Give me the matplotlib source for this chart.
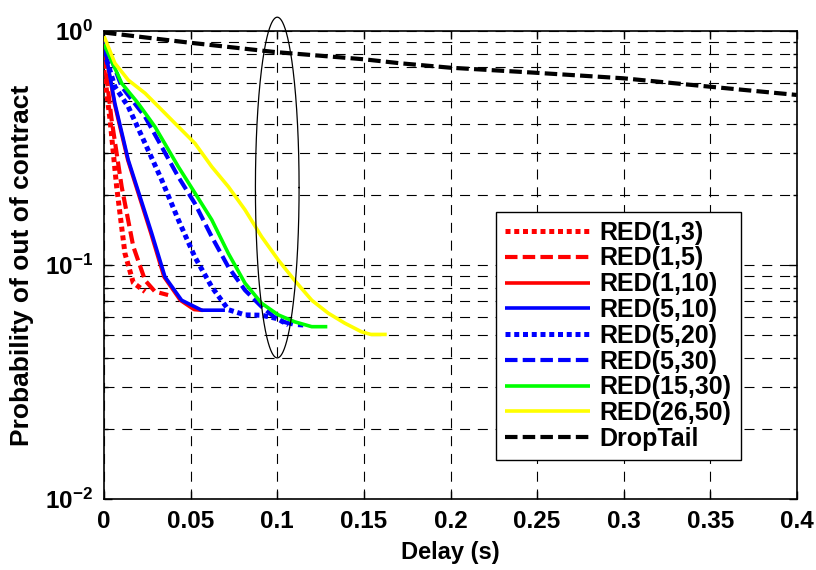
import numpy as np
import matplotlib
matplotlib.use("Agg")
import matplotlib.pyplot as plt

# ---- data: delay (s) vs probability of being out of contract ----
red_1_3_x = [0.0, 0.0035, 0.0073, 0.0121, 0.0169, 0.0237]
red_1_3_y = [0.68, 0.417, 0.216, 0.112, 0.084, 0.077]

red_1_5_x = [0.0, 0.0044, 0.0102, 0.0169, 0.0237, 0.0294, 0.037]
red_1_5_y = [0.78, 0.417, 0.216, 0.12, 0.086, 0.077, 0.0744]

red_1_10_x = [0.0, 0.0060, 0.0137, 0.0270, 0.0346, 0.0440, 0.0520, 0.0570]
red_1_10_y = [0.88, 0.49, 0.281, 0.137, 0.089, 0.0707, 0.0645, 0.0640]

red_5_10_x = [0.0, 0.0063, 0.0140, 0.0275, 0.0352, 0.0448, 0.0564, 0.0698]
red_5_10_y = [0.88, 0.49, 0.281, 0.137, 0.089, 0.0707, 0.0641, 0.0641]

red_5_20_x = [0.0, 0.0063, 0.0140, 0.0237, 0.0333, 0.0429, 0.0525, 0.0622,
              0.0718, 0.0814, 0.0910, 0.1000, 0.1064]
red_5_20_y = [0.82, 0.578, 0.475, 0.331, 0.231, 0.156, 0.108, 0.0806,
              0.0644, 0.0612, 0.0610, 0.0590, 0.0555]

red_5_30_x = [0.0, 0.0102, 0.0237, 0.0333, 0.0429, 0.0525, 0.0622, 0.0718,
              0.0814, 0.0910, 0.1006, 0.1100, 0.1150]
red_5_30_y = [0.92, 0.578, 0.43, 0.32, 0.238, 0.183, 0.132, 0.098,
              0.078, 0.0663, 0.058, 0.0555, 0.0552]

red_15_30_x = [0.0, 0.0102, 0.0198, 0.0294, 0.0429, 0.0525, 0.0622, 0.0718,
               0.0814, 0.0910, 0.1006, 0.1100, 0.1199, 0.1289]
red_15_30_y = [0.88, 0.598, 0.49, 0.39, 0.263, 0.203, 0.156, 0.112,
               0.0836, 0.0686, 0.0612, 0.0572, 0.0545, 0.0545]

red_26_50_x = [0.0, 0.0063, 0.0140, 0.0237, 0.0333, 0.0429, 0.0525, 0.0622,
               0.0718, 0.0814, 0.0910, 0.1006, 0.1100, 0.1199, 0.1295, 0.1390,
               0.1487, 0.1540, 0.1632]
red_26_50_y = [0.95, 0.728, 0.617, 0.542, 0.46, 0.39, 0.331, 0.263,
               0.216, 0.172, 0.132, 0.105, 0.086, 0.0707, 0.0622, 0.0564,
               0.0518, 0.0505, 0.0505]

droptail_x = [0.0, 0.0496, 0.0987, 0.1500, 0.1709, 0.1997, 0.2478, 0.2997,
              0.3498, 0.3998]
droptail_y = [0.985, 0.891, 0.813, 0.757, 0.728, 0.697, 0.664, 0.628,
              0.578, 0.533]

x_ticks = [0, 0.05, 0.1, 0.15, 0.2, 0.25, 0.3, 0.35, 0.4]
x_tick_labels = ["0", "0.05", "0.1", "0.15", "0.2", "0.25", "0.3", "0.35", "0.4"]
y_ticks = [1e-2, 1e-1, 1e0]
y_tick_labels = [r"$\mathbf{10^{-2}}$", r"$\mathbf{10^{-1}}$", r"$\mathbf{10^{0}}$"]

# ---- fonts ----
family = "Liberation Sans"
plt.rcParams["font.family"] = [family, "DejaVu Sans"]
plt.rcParams["font.weight"] = "bold"
plt.rcParams["mathtext.fontset"] = "custom"
plt.rcParams["mathtext.bf"] = f"{family}:bold"
plt.rcParams["mathtext.rm"] = f"{family}:bold"

fig = plt.figure(figsize=(8.16, 5.70), dpi=100)
ax = fig.add_axes([104 / 816, 71 / 570, 693 / 816, 468 / 570])
ax.set_yscale("log")

lw = 2.6
dot = (0, (1, 0.75))
dash = (0, (3, 1.25))
series = [
    (red_1_3_x, red_1_3_y, "RED(1,3)", "#ff0000", dot, 3.6),
    (red_1_5_x, red_1_5_y, "RED(1,5)", "#ff0000", dash, lw + 0.4),
    (red_1_10_x, red_1_10_y, "RED(1,10)", "#ff0000", "-", lw),
    (red_5_10_x, red_5_10_y, "RED(5,10)", "#0000ff", "-", lw),
    (red_5_20_x, red_5_20_y, "RED(5,20)", "#0000ff", dot, 3.6),
    (red_5_30_x, red_5_30_y, "RED(5,30)", "#0000ff", dash, lw + 0.4),
    (red_15_30_x, red_15_30_y, "RED(15,30)", "#00ff00", "-", lw),
    (red_26_50_x, red_26_50_y, "RED(26,50)", "#ffff00", "-", lw),
    (droptail_x, droptail_y, "DropTail", "#000000", dash, lw + 0.4),
]
for xs, ys, label, color, ls, w in series:
    ax.plot(xs, ys, color=color, linestyle=ls, linewidth=w, label=label,
            solid_capstyle="butt", dash_capstyle="butt", zorder=3)

# ellipse highlighting delay = 0.1 s (drawn in log-y space)
t = np.linspace(0, 2 * np.pi, 400)
ell_x = 0.1 + 0.0126 * np.cos(t)
ell_y = 10 ** (-0.669 + 0.728 * np.sin(t))
ax.plot(ell_x, ell_y, color="black", linewidth=0.9, clip_on=False, zorder=4)

ax.set_xlim(0, 0.4)
ax.set_ylim(1e-2, 1)
ax.set_xticks(x_ticks)
ax.set_xticklabels(x_tick_labels)
ax.set_yticks(y_ticks)
ax.set_yticklabels(y_tick_labels)

grid_ls = (0, (9, 7))
ax.grid(True, which="major", axis="x", color="black", linestyle=grid_ls, linewidth=0.8)
ax.grid(True, which="both", axis="y", color="black", linestyle=grid_ls, linewidth=0.8)
ax.tick_params(which="both", direction="in", top=True, right=True, labelsize=17.5,
               width=1.0)
ax.tick_params(which="major", length=6, pad=8)
ax.tick_params(which="minor", length=3)
for s in ax.spines.values():
    s.set_linewidth(1.2)

ax.set_xlabel("Delay (s)", fontsize=17, fontweight="bold", labelpad=6)
ax.set_ylabel("Probability of out of contract", fontsize=19, fontweight="bold", labelpad=8)

leg = ax.legend(loc="upper left", bbox_to_anchor=((496 - 104) / 693, (499 - 212) / 468),
                fontsize=18, frameon=True, fancybox=False, edgecolor="black",
                framealpha=1, handlelength=3.4, handletextpad=0.4, labelspacing=0.07,
                borderpad=0.35, borderaxespad=0)
leg.get_frame().set_linewidth(1.0)
for txt in leg.get_texts():
    txt.set_fontweight("bold")

fig.savefig("out.png", dpi=100)
